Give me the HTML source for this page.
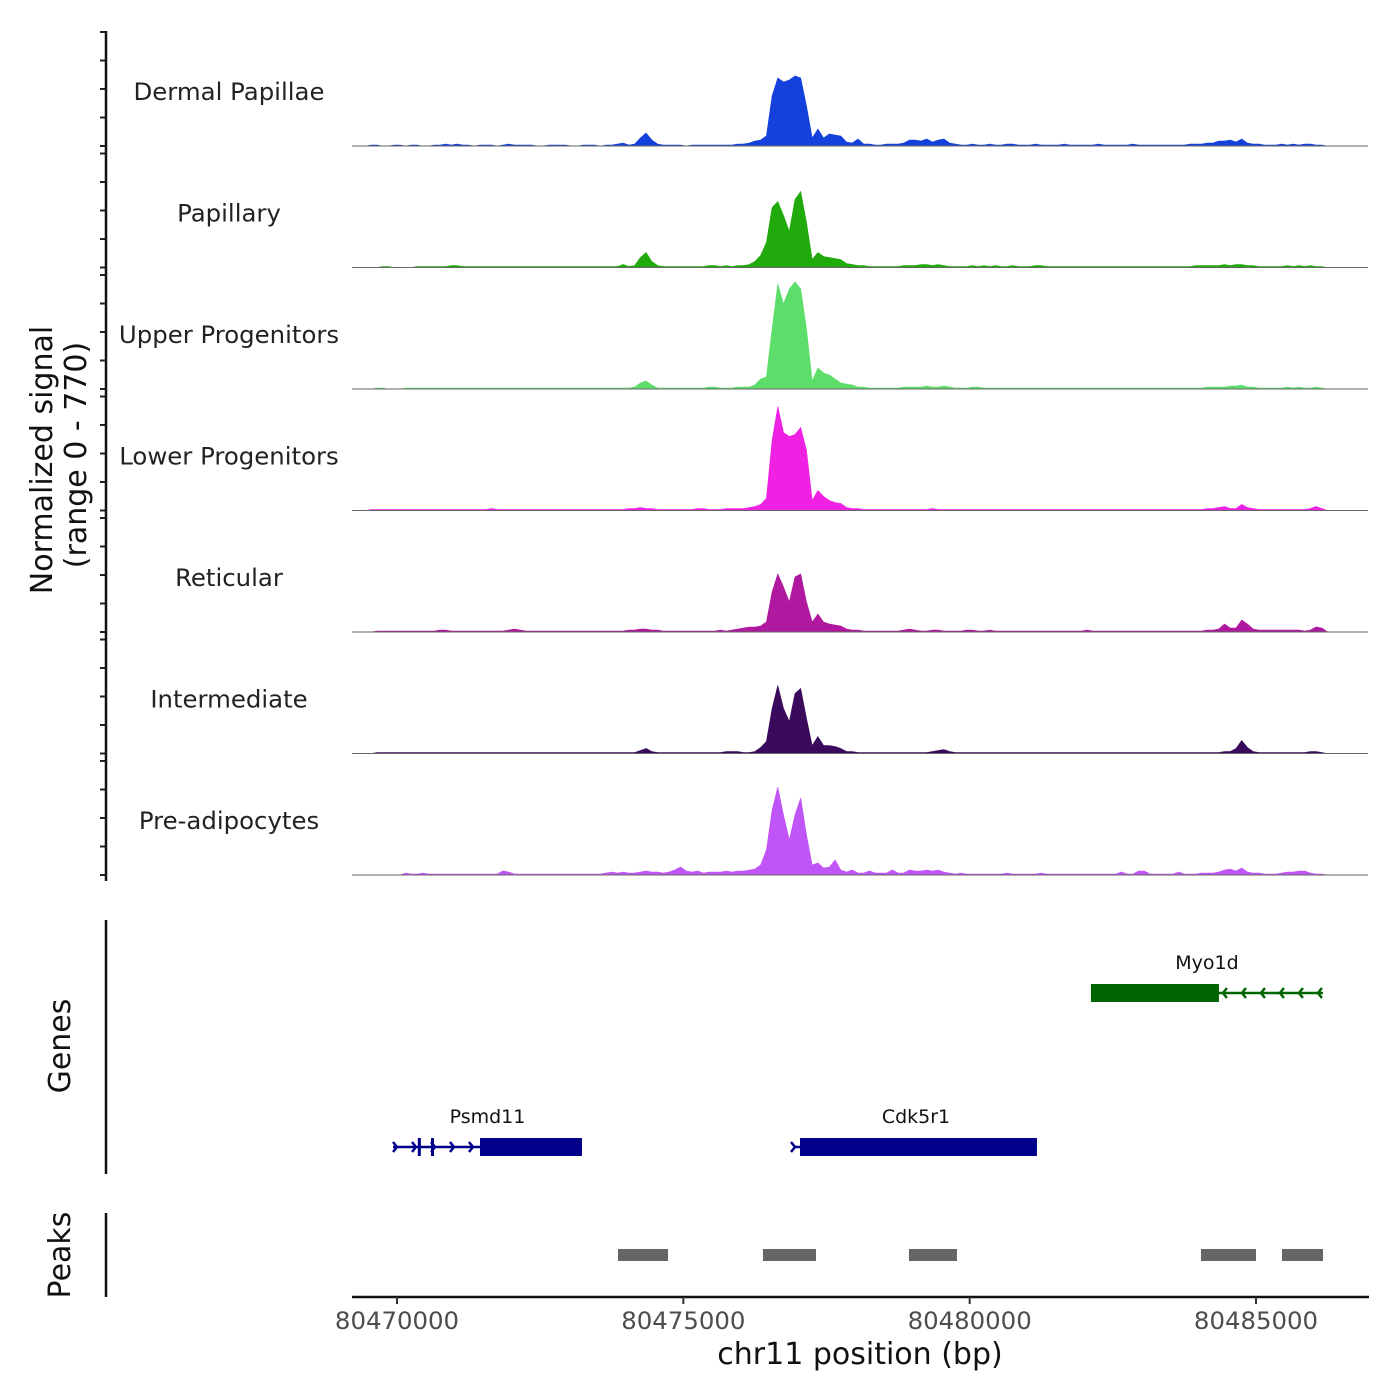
<!DOCTYPE html>
<html><head><meta charset="utf-8"><style>
html,body{margin:0;padding:0;background:#fff}
svg{display:block;font-family:"DejaVu Sans","Liberation Sans",sans-serif}
</style></head><body>
<svg id="chart" width="1400" height="1400" viewBox="0 0 1400 1400" xmlns="http://www.w3.org/2000/svg"></svg>
<script>
// ---- data ----
const binStart = 80469200;
const binSize = 100;
const trackNames = ["Dermal Papillae","Papillary","Upper Progenitors","Lower Progenitors","Reticular","Intermediate","Pre-adipocytes"];
const trackColors = ["#1440db","#20aa0b","#5ddd6a","#ef21e3","#b0189f","#3a0a5c","#c055f7"];
const dermalPapillae = [0,0,0,1,1,0,0,1,1,0, 1,1,0,0,1,1,2,1,2,1, 1,0,1,1,1,0,1,2,1,1, 1,1,0,0,1,1,1,1,0,0, 1,1,1,0,1,1,2,3,1,2, 8,13,6,2,1,1,1,1,0,1, 1,1,1,1,1,1,1,2,2,3, 5,6,10,50,68,64,66,70,68,40, 8,17,8,12,11,10,4,3,7,2, 2,1,1,2,2,2,3,6,6,5, 7,4,6,7,3,2,1,1,2,1, 1,2,1,1,2,2,1,1,1,2, 1,1,1,1,2,1,1,1,1,1, 2,1,1,1,1,1,2,1,1,1, 1,1,1,1,1,1,2,2,2,3, 3,5,5,6,4,7,3,2,2,1, 1,1,2,1,2,1,2,2,1,1, 0];
const papillary = [0,0,0,0,0,1,1,0,0,0, 0,1,1,1,1,1,1,2,2,1, 1,1,1,1,1,1,1,1,1,1, 1,1,1,1,1,1,1,1,1,1, 1,1,1,1,1,1,1,3,1,2, 10,15,6,2,1,1,1,1,1,1, 1,1,2,2,1,2,1,2,2,3, 6,12,25,60,66,52,36,68,76,45, 8,15,11,10,9,8,4,3,2,2, 1,1,1,1,1,1,2,2,2,3, 3,2,3,2,1,1,1,1,2,1, 2,1,2,1,1,2,1,1,1,2, 2,1,1,1,1,1,1,1,1,1, 1,1,1,1,1,1,1,1,1,1, 1,1,1,1,1,1,1,2,2,2, 2,2,3,2,3,3,2,2,1,1, 1,1,1,2,1,2,1,2,1,1, 0];
const upperProgenitors = [0,0,0,0,1,1,0,0,0,1, 1,1,1,1,1,1,1,1,1,1, 1,1,1,1,1,1,1,1,1,1, 1,1,1,1,1,1,1,1,1,1, 1,1,1,1,1,1,1,1,1,2, 6,8,4,1,1,1,1,1,1,1, 1,1,2,2,1,1,1,2,2,2, 4,10,12,60,105,85,100,107,100,60, 8,21,16,14,10,6,5,4,2,2, 1,1,1,1,1,1,2,2,2,2, 3,2,2,3,2,1,1,1,2,2, 1,1,1,1,1,1,1,1,1,1, 1,1,1,1,1,1,1,1,1,1, 1,1,1,1,1,1,1,1,1,1, 1,1,1,1,1,1,1,1,1,2, 2,2,2,3,3,4,2,2,1,1, 1,1,1,2,1,2,1,1,2,1, 0];
const lowerProgenitors = [0,0,0,1,1,1,1,1,1,1, 1,1,1,1,1,1,1,1,1,1, 1,1,1,1,2,1,1,1,1,1, 1,1,1,1,1,1,1,1,1,1, 1,1,1,1,1,1,1,1,2,2, 3,2,2,1,1,1,1,1,1,1, 2,2,1,1,1,2,2,2,2,3, 4,6,12,70,104,78,74,76,83,60, 10,20,14,10,8,7,3,2,2,1, 1,1,1,1,1,1,1,1,1,1, 1,2,1,1,1,1,1,1,1,1, 1,1,1,1,1,1,1,1,1,1, 1,1,1,1,1,1,1,1,1,1, 1,1,1,1,1,1,1,1,1,1, 1,1,1,1,1,1,1,1,1,2, 2,3,4,2,2,6,3,2,1,1, 1,1,1,1,1,1,1,2,4,2, 0];
const reticular = [0,0,0,0,1,1,1,1,1,1, 1,1,1,1,1,2,2,1,1,1, 1,1,1,1,1,1,1,2,3,2, 1,1,1,1,1,1,1,1,1,1, 1,1,1,1,1,1,1,1,2,2, 3,3,2,2,1,1,1,1,1,1, 1,1,1,1,2,1,2,3,4,5, 5,6,10,40,58,45,30,55,58,30, 10,18,10,8,7,6,3,2,2,1, 1,1,1,1,1,1,2,3,2,1, 1,2,2,1,1,1,1,2,2,1, 1,2,1,1,1,1,1,1,1,1, 1,1,1,1,1,1,1,1,2,1, 1,1,1,1,1,1,1,1,1,1, 1,1,1,1,1,1,1,1,1,2, 2,3,8,4,4,12,8,3,2,2, 2,2,2,2,2,2,1,2,5,4, 0];
const intermediate = [0,0,0,0,1,1,1,1,1,1, 1,1,1,1,1,1,1,1,1,1, 1,1,1,1,1,1,1,1,1,1, 1,1,1,1,1,1,1,1,1,1, 1,1,1,1,1,1,1,1,1,1, 3,5,2,1,1,1,1,1,1,1, 1,1,1,1,1,2,2,2,1,1, 2,6,12,45,68,45,32,60,65,35, 8,17,8,8,7,5,2,2,1,1, 1,1,1,1,1,1,1,1,1,1, 1,2,3,4,2,1,1,1,1,1, 1,1,1,1,1,1,1,1,1,1, 1,1,1,1,1,1,1,1,1,1, 1,1,1,1,1,1,1,1,1,1, 1,1,1,1,1,1,1,1,1,1, 1,1,2,2,5,13,6,2,1,1, 1,1,1,1,1,1,1,2,2,1, 0];
const preAdipocytes = [0,0,0,0,0,0,0,0,0,2, 1,1,2,1,1,1,1,1,1,1, 1,1,1,1,1,1,4,3,1,1, 1,1,1,1,1,1,1,1,1,1, 1,1,1,1,2,3,2,3,2,2, 3,4,3,3,2,3,5,8,4,3, 4,2,3,3,3,4,3,4,4,5, 6,10,25,65,88,60,35,60,77,40, 10,12,7,8,15,5,3,5,2,2, 4,2,2,2,5,2,2,5,4,4, 5,4,5,3,2,1,2,1,1,1, 1,1,1,1,2,1,1,1,1,1, 2,1,1,1,1,1,1,1,1,1, 1,1,1,1,3,1,1,4,4,1, 1,1,1,1,3,1,1,1,2,2, 2,3,5,6,4,7,3,2,2,1, 1,1,2,3,3,4,4,2,1,1, 0];
const trackValues = [dermalPapillae,papillary,upperProgenitors,lowerProgenitors,reticular,intermediate,preAdipocytes];
const xTicks = [80470000,80475000,80480000,80485000];
const xTickLabels = ["80470000","80475000","80480000","80485000"];
const peakStarts = [80473859,80476391,80478940,80484039,80485454];
const peakEnds   = [80474732,80477316,80479778,80485000,80486170];
const geneNames  = ["Psmd11","Cdk5r1","Myo1d"];
const geneStarts = [80469930,80476950,80482118];
const geneEnds   = [80473230,80481175,80486170];
const geneThickStarts = [80471449,80477037,80482118];
const geneThickEnds   = [80473230,80481175,80484353];
const geneStrands = ["+","+","-"];
const SIGNAL_MAX = 114;

// ---- scales ----
const X0 = 80470000, PX0 = 397, PXPERBP = (1256-397)/15000;
const xs = bp => PX0 + (bp - X0) * PXPERBP;
const TRACK_H = 121.5, BASE0 = 146, PANEL_H = 114;
const ys = (k, v) => BASE0 + k*TRACK_H - v / SIGNAL_MAX * PANEL_H;

const svg = document.getElementById('chart');
const NS = 'http://www.w3.org/2000/svg';
function mk(tag, attrs, parent){const e=document.createElementNS(NS,tag);for(const k in attrs)e.setAttribute(k,attrs[k]);(parent||svg).appendChild(e);return e;}

// ---- coverage tracks ----
trackValues.forEach((vals,k)=>{
  const g = mk('g',{});
  
  
  const base = ys(k,0);
  let d = 'M' + xs(binStart + binSize/2).toFixed(1) + ' ' + base;
  vals.forEach((v,i)=>{ d += ' L' + xs(binStart + i*binSize + binSize/2).toFixed(1) + ' ' + ys(k,v).toFixed(1); });
  d += ' L' + xs(binStart + (vals.length-1)*binSize + binSize/2).toFixed(1) + ' ' + base + ' Z';
  const p = mk('path',{d:d, fill:trackColors[k], stroke:trackColors[k], 'stroke-width':0.6}, g);
  
  
  const bl = mk('line',{x1:352,x2:1368,y1:base,y2:base,stroke:'#666','stroke-width':1}, g);
  
  
  const t = mk('text',{x:229,y:base-46,'text-anchor':'middle','font-size':24.4,fill:'#222'}, g);
  t.textContent = trackNames[k];
  
  
  for(let j=0;j<5;j++){
    const ty = base - PANEL_H + j*PANEL_H/4;
    const tk = mk('line',{x1:100,x2:106,y1:ty,y2:ty,stroke:'#222','stroke-width':2}, g);
    
    
  }
});
const yAxis = mk('line',{x1:106,x2:106,y1:31,y2:881,stroke:'#111','stroke-width':2.5});


const yt1 = mk('text',{x:0,y:0,transform:'translate(52,460) rotate(-90)','text-anchor':'middle','font-size':30,fill:'#111'});
yt1.textContent = 'Normalized signal';


const yt2 = mk('text',{x:0,y:0,transform:'translate(86,455) rotate(-90)','text-anchor':'middle','font-size':30,fill:'#111'});
yt2.textContent = '(range 0 - 770)';



// ---- genes ----
const gAxis = mk('line',{x1:106,x2:106,y1:920,y2:1174,stroke:'#111','stroke-width':2.5});


const gTitle = mk('text',{x:0,y:0,transform:'translate(70,1046) rotate(-90)','text-anchor':'middle','font-size':30,fill:'#111'});
gTitle.textContent = 'Genes';


const geneRowY = [1147,1147,993];
const geneColor = ["#00008b","#00008b","#006400"];
geneNames.forEach((n,i)=>{
  const g = mk('g',{});
  
  
  const y = geneRowY[i], c = geneColor[i];
  const x1 = xs(geneStarts[i]), x2 = xs(geneEnds[i]);
  mk('line',{x1:x1,x2:x2,y1:y,y2:y,stroke:c,'stroke-width':2.5}, g);
  mk('rect',{x:xs(geneThickStarts[i]),y:y-9,width:xs(geneThickEnds[i])-xs(geneThickStarts[i]),height:18,fill:c}, g);
  const thinStart = geneStrands[i]==='+' ? x1 : xs(geneThickEnds[i]);
  const thinEnd = geneStrands[i]==='+' ? xs(geneThickStarts[i]) : x2;
  for(let ax = thinStart+4; ax < thinEnd-4; ax += 19){
    const dir = geneStrands[i]==='+' ? 1 : -1;
    mk('path',{d:`M${ax-4*dir} ${y-5} L${ax} ${y} L${ax-4*dir} ${y+5}`,fill:'none',stroke:c,'stroke-width':2.5}, g);
  }
  if(geneStrands[i]==='+' && thinEnd-thinStart < 20){
    mk('path',{d:`M${x1-4} ${y-5} L${x1} ${y} L${x1-4} ${y+5}`,fill:'none',stroke:c,'stroke-width':2.5}, g);
  }
  const lb = mk('text',{x:(x1+x2)/2,y:y-24,'text-anchor':'middle','font-size':19,fill:'#111'}, g);
  lb.textContent = n;
  
  
});
[80470390,80470620].forEach(bp=>{
  const e = mk('rect',{x:xs(bp)-1.5,y:1138,width:3,height:18,fill:'#00008b'});
  
  
});

// ---- peaks ----
const pAxis = mk('line',{x1:106,x2:106,y1:1213,y2:1297,stroke:'#111','stroke-width':2.5});


const pTitle = mk('text',{x:0,y:0,transform:'translate(70,1255) rotate(-90)','text-anchor':'middle','font-size':30,fill:'#111'});
pTitle.textContent = 'Peaks';


peakStarts.forEach((s,i)=>{
  const r = mk('rect',{x:xs(s),y:1249,width:xs(peakEnds[i])-xs(s),height:12,fill:'#666'});
  
  
});

// ---- x axis ----
const xAxis = mk('line',{x1:352,x2:1369,y1:1297,y2:1297,stroke:'#111','stroke-width':2.5});


xTicks.forEach((t,i)=>{
  const tk = mk('line',{x1:xs(t),x2:xs(t),y1:1297,y2:1304,stroke:'#333','stroke-width':2});
  
  
  const lb = mk('text',{x:xs(t),y:1329,'text-anchor':'middle','font-size':24.4,fill:'#4d4d4d'});
  lb.textContent = xTickLabels[i];
  
  
});
const xTitle = mk('text',{x:860,y:1364,'text-anchor':'middle','font-size':30,fill:'#111'});
xTitle.textContent = 'chr11 position (bp)';


</script>
</body></html>
